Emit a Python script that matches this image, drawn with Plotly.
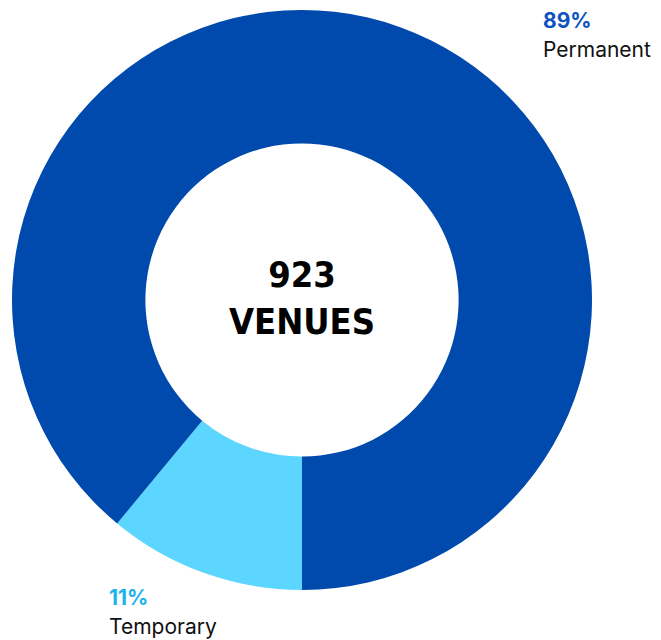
import plotly.graph_objects as go

categories = ["Temporary", "Permanent"]
values = [11, 89]
colors = ["#5CD6FF", "#004AAD"]
pct_labels = ["11%", "89%"]
center_lines = ["923", "VENUES"]

W, H = 661, 640
OFF = 8  # page body margin offset
cx, cy, R = 302 - OFF, 300 - OFF, 290


def px(x):
    return (x - OFF) / W


def py(y):
    return 1 - (y - OFF) / H


fig = go.Figure(go.Pie(
    labels=categories,
    values=values,
    hole=0.54,
    sort=False,
    direction="clockwise",
    rotation=180,
    marker=dict(colors=colors, line=dict(width=0)),
    textinfo="none",
    hoverinfo="label+percent",
    showlegend=False,
    domain=dict(x=[(cx - R) / W, (cx + R) / W], y=[(H - cy - R) / H, (H - cy + R) / H]),
))

fig.add_annotation(x=px(302), y=py(298), xref="paper", yref="paper",
                   text="<b>" + "<br>".join(center_lines) + "</b>", showarrow=False,
                   font=dict(family="DejaVu Sans Condensed", size=36, color="#000000"),
                   xanchor="center", yanchor="middle")

# Permanent label
fig.add_annotation(x=px(542), y=py(21), xref="paper", yref="paper",
                   text="<b>" + pct_labels[1] + "</b>", showarrow=False, align="left",
                   font=dict(family="Inter", size=21, color="#0D52BF"),
                   xanchor="left", yanchor="middle", borderpad=0)
fig.add_annotation(x=px(542), y=py(49), xref="paper", yref="paper",
                   text=categories[1], showarrow=False, align="left",
                   font=dict(family="Inter", size=21, color="#111111"),
                   xanchor="left", yanchor="middle", borderpad=0)
# Temporary label
fig.add_annotation(x=px(108), y=py(597), xref="paper", yref="paper",
                   text="<b>" + pct_labels[0] + "</b>", showarrow=False, align="left",
                   font=dict(family="Inter", size=21, color="#1EB4E9"),
                   xanchor="left", yanchor="middle", borderpad=0)
fig.add_annotation(x=px(108), y=py(626), xref="paper", yref="paper",
                   text=categories[0], showarrow=False, align="left",
                   font=dict(family="Inter", size=21, color="#111111"),
                   xanchor="left", yanchor="middle", borderpad=0)

fig.update_layout(width=W, height=H, margin=dict(l=0, r=0, t=0, b=0),
                  paper_bgcolor="white", plot_bgcolor="white")
fig.write_html("out.html")
